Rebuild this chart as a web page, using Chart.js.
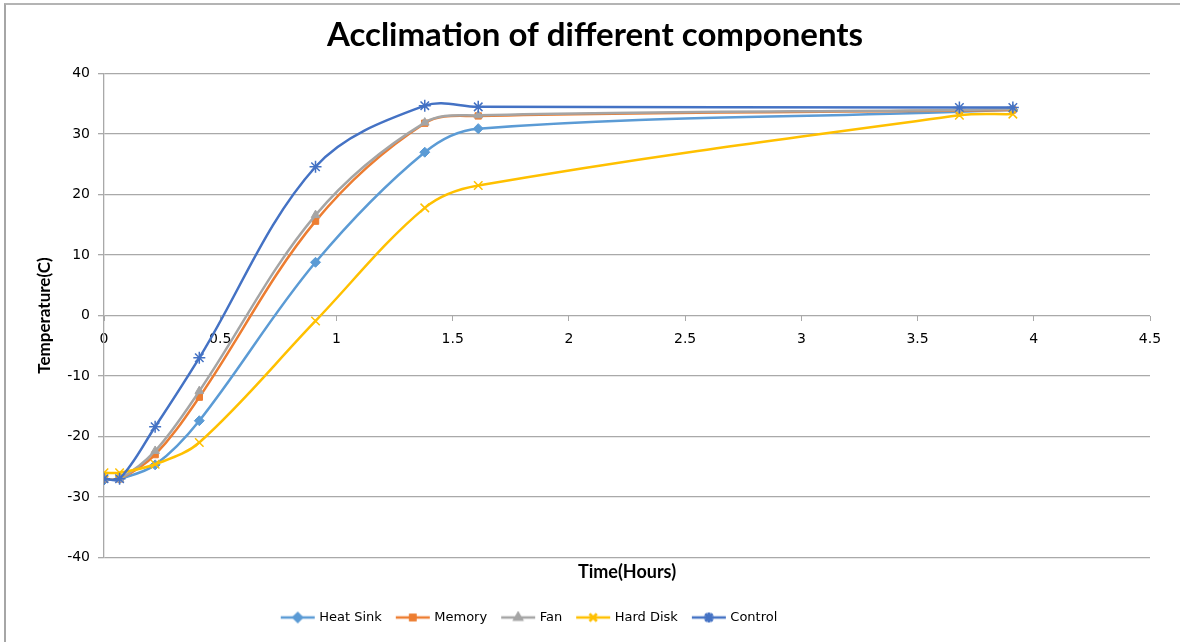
<!DOCTYPE html>
<html>
<head>
<meta charset="utf-8">
<title>Acclimation of different components</title>
<script src="https://cdn.jsdelivr.net/npm/chart.js@4/dist/chart.umd.min.js"></script>
<style>
  html, body { margin: 0; padding: 0; background: #fff; }
  #wrap { position: relative; width: 1180px; height: 642px; }
  #frame {
    position: absolute; left: 4px; top: 3px; right: 0; bottom: 0;
    border-left: 2px solid #a6a6a6; border-top: 2px solid #b4b4b4;
    pointer-events: none;
  }
  canvas { position: absolute; left: 0; top: 0; }
</style>
</head>
<body>
<div id="wrap">
  <canvas id="chart" width="1180" height="642"></canvas>
  <div id="frame"></div>
</div>
<script>
// sample times in hours
const hours = [0, 0.067, 0.22, 0.41, 0.91, 1.38, 1.61, 3.68, 3.91];

const heatSink = [-27.2, -27, -24.7, -17.4, 8.8, 27, 30.9, 33.7, 34];
const memory   = [-27, -27, -23, -13.5, 15.6, 31.8, 33, 33.9, 34];
const fan      = [-27, -27, -22.4, -12.5, 16.6, 31.9, 33.1, 34, 34.1];
const hardDisk = [-26, -26, -24.6, -21, -0.9, 17.8, 21.5, 33.1, 33.3];
const control  = [-27, -27, -18.4, -7, 24.6, 34.7, 34.5, 34.4, 34.4];

const seriesNames = ['Heat Sink', 'Memory', 'Fan', 'Hard Disk', 'Control'];
const seriesColors = ['#5B9BD5', '#ED7D31', '#A5A5A5', '#FFC000', '#4472C4'];
const seriesMarkers = ['rectRot', 'rect', 'triangle', 'crossRot', 'star'];
const seriesValues = [heatSink, memory, fan, hardDisk, control];

const yTicks = [-40, -30, -20, -10, 0, 10, 20, 30, 40];
const xTicks = [0, 0.5, 1, 1.5, 2, 2.5, 3, 3.5, 4, 4.5];

const tickFont = { family: '"DejaVu Sans", Verdana, sans-serif', size: 14 };
const legendFont = { family: '"DejaVu Sans", Verdana, sans-serif', size: 13 };
const gridColor = '#a9a9a9';

function markerRadius(style) {
  if (style === 'crossRot' || style === 'star') return 6;
  if (style === 'rect') return 4.5;
  return 5;
}

// little "line + marker" swatch used by the legend
function legendSwatch(color, style) {
  const c = document.createElement('canvas');
  c.width = 40;
  c.height = 14;
  const ctx = c.getContext('2d');
  ctx.strokeStyle = color;
  ctx.lineWidth = 2.5;
  ctx.beginPath();
  ctx.moveTo(3, 7);
  ctx.lineTo(37, 7);
  ctx.stroke();
  Chart.helpers.drawPoint(ctx, {
    pointStyle: style,
    radius: markerRadius(style) - 1,
    borderWidth: style === 'crossRot' || style === 'star' ? 1.2 : 1
  }, 20, 7);
  ctx.fillStyle = color;
  ctx.fill();
  ctx.stroke();
  return c;
}

// title sits a little right of centre, the legend row a bit left
const blockShift = {
  id: 'blockShift',
  afterLayout(chart) {
    const lg = chart.legend;
    if (lg) { lg.left -= 50; lg.right -= 50; }
    const tb = chart.titleBlock;
    if (tb) { tb.left += 15; tb.right += 15; }
  }
};

const datasets = seriesNames.map((name, i) => ({
  label: name,
  data: hours.map((h, j) => ({ x: h, y: seriesValues[i][j] })),
  borderColor: seriesColors[i],
  backgroundColor: seriesColors[i],
  borderWidth: 2.5,
  tension: 0.35,
  pointStyle: seriesMarkers[i],
  pointRadius: markerRadius(seriesMarkers[i]),
  pointBorderWidth: seriesMarkers[i] === 'crossRot' || seriesMarkers[i] === 'star' ? 1.5 : 1,
  pointBackgroundColor: seriesColors[i],
  pointBorderColor: seriesColors[i],
  order: seriesNames.length - i,
  fill: false
}));

new Chart(document.getElementById('chart'), {
  type: 'line',
  data: { datasets },
  plugins: [blockShift],
  options: {
    responsive: false,
    animation: false,
    layout: { padding: { left: 10, right: 30, top: 16, bottom: 8 } },
    plugins: {
      tooltip: { enabled: false },
      title: {
        display: true,
        text: 'Acclimation of different components',
        color: '#000',
        font: { family: 'Lato, "Open Sans", sans-serif', size: 33, weight: 'bold' },
        padding: { top: 0, bottom: 18 }
      },
      legend: {
        position: 'bottom',
        labels: {
          color: '#000',
          font: legendFont,
          usePointStyle: true,
          pointStyleWidth: 30,
          padding: 16,
          generateLabels: (chart) => chart.data.datasets.map((ds, i) => ({
            text: ds.label,
            datasetIndex: i,
            fillStyle: ds.borderColor,
            strokeStyle: ds.borderColor,
            fontColor: '#000',
            lineWidth: 0,
            hidden: false,
            pointStyle: legendSwatch(ds.borderColor, ds.pointStyle)
          }))
        }
      }
    },
    scales: {
      x: {
        type: 'linear',
        min: 0,
        max: 4.5,
        position: { y: 0 },
        afterBuildTicks: (scale) => { scale.ticks = xTicks.map(v => ({ value: v })); },
        ticks: { color: '#000', font: tickFont, padding: 10, callback: (v) => String(v) },
        grid: { drawOnChartArea: false, color: gridColor, tickLength: 5 },
        border: { display: false }
      },
      // bottom axis that only carries the time title
      xTitle: {
        type: 'linear',
        position: 'bottom',
        ticks: { display: false },
        grid: { display: false, drawTicks: false },
        border: { display: false },
        title: {
          display: true,
          text: 'Time(Hours)',
          color: '#000',
          font: { family: 'Lato, sans-serif', size: 18, weight: 'bold' },
          padding: { top: 4, bottom: 12 }
        }
      },
      y: {
        type: 'linear',
        min: -40,
        max: 40,
        afterBuildTicks: (scale) => { scale.ticks = yTicks.map(v => ({ value: v })); },
        afterFit: (scale) => { scale.width = 94; },
        ticks: { color: '#000', font: tickFont, padding: 8 },
        grid: { color: gridColor, lineWidth: 1.3, tickLength: 6 },
        border: { color: gridColor, width: 1.3 },
        title: {
          display: true,
          text: 'Temperature(C)',
          color: '#000',
          font: { family: 'Lato, sans-serif', size: 17, weight: 'bold' },
          padding: { top: 24, bottom: 0 }
        }
      }
    }
  }
});
</script>
</body>
</html>
